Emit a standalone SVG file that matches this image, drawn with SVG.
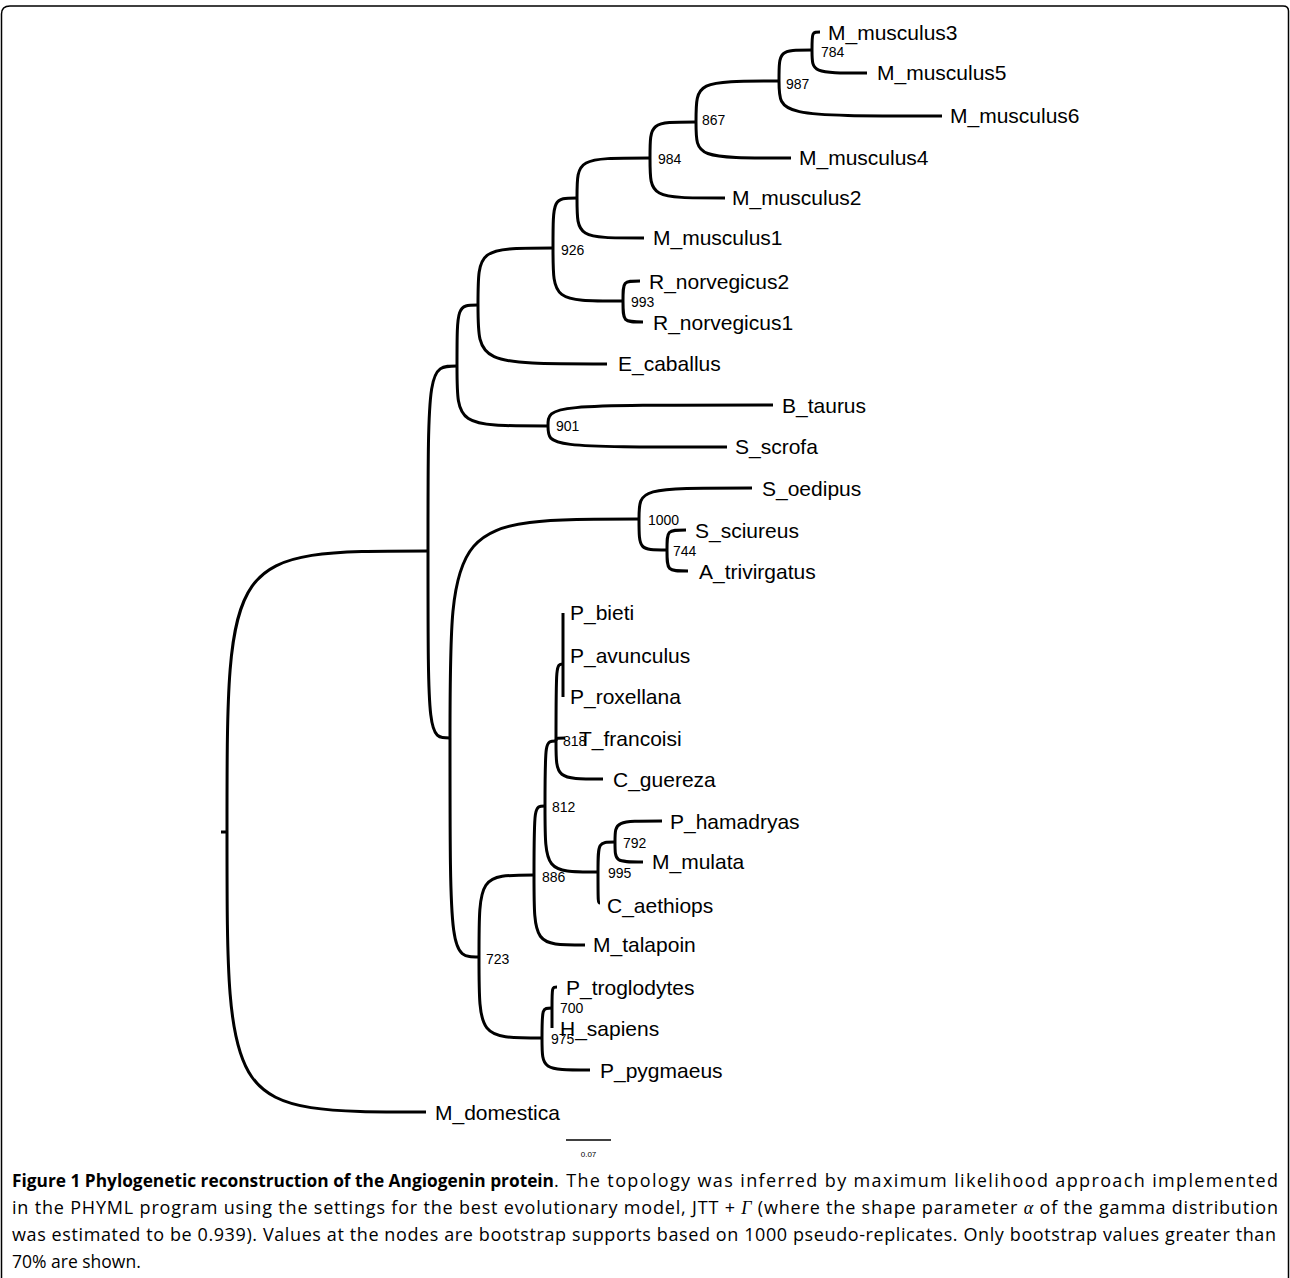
<svg xmlns="http://www.w3.org/2000/svg" width="1290" height="1278" viewBox="0 0 1290 1278">
<style>
.br{fill:none;stroke:#000;stroke-width:3;stroke-linecap:butt}
.tip{font-family:"Liberation Sans",Arial,sans-serif;font-size:21px;fill:#000}
.bs{font-family:"Liberation Sans",Arial,sans-serif;font-size:14px;fill:#000}
.cap{font-family:"Open Sans","Liberation Sans",sans-serif;font-size:18px;fill:#000}
.capb{font-family:"Open Sans","Liberation Sans",sans-serif;font-size:18px;font-weight:bold;fill:#000}
.gr{font-family:"Liberation Serif",serif;font-style:italic}
</style>
<rect width="1290" height="1278" fill="#fff"/>
<path d="M1.5,1278 V14 Q1.5,6 10,6 H1283 Q1288.5,6 1288.5,11 V1278" fill="none" stroke="#000" stroke-width="1.5"/>
<g id="connectors">
<path class="br" d="M221,832 H228"/>
<path class="br" d="M227,832 C227,551 227,551 428,551"/>
<path class="br" d="M227,832 C227,1112 227,1112 426,1112"/>
<path class="br" d="M428,551 C428,366 428,366 457,366"/>
<path class="br" d="M428,551 C428,738 428,738 450,738"/>
<path class="br" d="M457,366 C457,305 457,305 478,305"/>
<path class="br" d="M457,366 C457,426 457,426 548,426"/>
<path class="br" d="M478,305 C478,248 478,248 553,248"/>
<path class="br" d="M478,305 C478,364 478,364 607,364"/>
<path class="br" d="M553,248 C553,198 553,198 577,198"/>
<path class="br" d="M553,248 C553,301 553,301 623,301"/>
<path class="br" d="M577,198 C577,158 577,158 650,158"/>
<path class="br" d="M577,198 C577,238 577,238 644,238"/>
<path class="br" d="M650,158 C650,122 650,122 696,122"/>
<path class="br" d="M650,158 C650,198 650,198 725,198"/>
<path class="br" d="M696,122 C696,81 696,81 779,81"/>
<path class="br" d="M696,122 C696,158 696,158 791,158"/>
<path class="br" d="M779,81 C779,50 779,50 812,50"/>
<path class="br" d="M779,81 C779,116 779,116 942,116"/>
<path class="br" d="M812,50 C812,32 812,32 820,32"/>
<path class="br" d="M812,50 C812,73 812,73 867,73"/>
<path class="br" d="M623,301 C623,281 623,281 640,281"/>
<path class="br" d="M623,301 C623,322 623,322 643,322"/>
<path class="br" d="M548,426 C548,405 548,405 773,405"/>
<path class="br" d="M548,426 C548,447 548,447 727,447"/>
<path class="br" d="M450,738 C450,519 450,519 639,519"/>
<path class="br" d="M450,738 C450,957 450,957 479,957"/>
<path class="br" d="M639,519 C639,488 639,488 752,488"/>
<path class="br" d="M639,519 C639,550 639,550 667,550"/>
<path class="br" d="M667,550 C667,530 667,530 686,530"/>
<path class="br" d="M667,550 C667,571 667,571 688,571"/>
<path class="br" d="M479,957 C479,875 479,875 534,875"/>
<path class="br" d="M479,957 C479,1038 479,1038 542,1038"/>
<path class="br" d="M534,875 C534,806 534,806 545,806"/>
<path class="br" d="M534,875 C534,945 534,945 585,945"/>
<path class="br" d="M545,806 C545,741 545,741 556,741"/>
<path class="br" d="M545,806 C545,872 545,872 598,872"/>
<path class="br" d="M556,741 C556,664 556,664 563,664"/>
<path class="br" d="M556,741 C556,738 556,738 565,738"/>
<path class="br" d="M556,741 C556,779 556,779 603,779"/>
<path class="br" d="M563,664 V613"/>
<path class="br" d="M563,664 V697"/>
<path class="br" d="M598,872 C598,842 598,842 615,842"/>
<path class="br" d="M598,872 C598,903 598,903 600,903"/>
<path class="br" d="M615,842 C615,821 615,821 662,821"/>
<path class="br" d="M615,842 C615,862 615,862 643,862"/>
<path class="br" d="M542,1038 C542,1008 542,1008 552,1008"/>
<path class="br" d="M542,1038 C542,1070 542,1070 590,1070"/>
<path class="br" d="M552,1008 C552,987 552,987 557,987"/>
<path class="br" d="M552,1008 V1028"/>
</g>
<g id="tips">
<g id="t_M_musculus3"><text class="tip" x="828" y="40">M_musculus3</text></g>
<g id="t_M_musculus5"><text class="tip" x="877" y="80">M_musculus5</text></g>
<g id="t_M_musculus6"><text class="tip" x="950" y="123">M_musculus6</text></g>
<g id="t_M_musculus4"><text class="tip" x="799" y="165">M_musculus4</text></g>
<g id="t_M_musculus2"><text class="tip" x="732" y="205">M_musculus2</text></g>
<g id="t_M_musculus1"><text class="tip" x="653" y="245">M_musculus1</text></g>
<g id="t_R_norvegicus2"><text class="tip" x="649" y="289">R_norvegicus2</text></g>
<g id="t_R_norvegicus1"><text class="tip" x="653" y="330">R_norvegicus1</text></g>
<g id="t_E_caballus"><text class="tip" x="618" y="371">E_caballus</text></g>
<g id="t_B_taurus"><text class="tip" x="782" y="413">B_taurus</text></g>
<g id="t_S_scrofa"><text class="tip" x="735" y="454">S_scrofa</text></g>
<g id="t_S_oedipus"><text class="tip" x="762" y="496">S_oedipus</text></g>
<g id="t_S_sciureus"><text class="tip" x="695" y="538">S_sciureus</text></g>
<g id="t_A_trivirgatus"><text class="tip" x="699" y="579">A_trivirgatus</text></g>
<g id="t_P_bieti"><text class="tip" x="570" y="620">P_bieti</text></g>
<g id="t_P_avunculus"><text class="tip" x="570" y="663">P_avunculus</text></g>
<g id="t_P_roxellana"><text class="tip" x="570" y="704">P_roxellana</text></g>
<g id="t_T_francoisi"><text class="tip" x="579" y="746">T_francoisi</text></g>
<g id="t_C_guereza"><text class="tip" x="613" y="787">C_guereza</text></g>
<g id="t_P_hamadryas"><text class="tip" x="670" y="829">P_hamadryas</text></g>
<g id="t_M_mulata"><text class="tip" x="652" y="869">M_mulata</text></g>
<g id="t_C_aethiops"><text class="tip" x="607" y="913">C_aethiops</text></g>
<g id="t_M_talapoin"><text class="tip" x="593" y="952">M_talapoin</text></g>
<g id="t_P_troglodytes"><text class="tip" x="566" y="995">P_troglodytes</text></g>
<g id="t_H_sapiens"><text class="tip" x="560" y="1036">H_sapiens</text></g>
<g id="t_P_pygmaeus"><text class="tip" x="600" y="1078">P_pygmaeus</text></g>
<g id="t_M_domestica"><text class="tip" x="435" y="1120">M_domestica</text></g>
</g>
<g id="nodes">
<g id="n784"><text class="bs" x="821" y="57">784</text></g>
<g id="n987"><text class="bs" x="786" y="89">987</text></g>
<g id="n867"><text class="bs" x="702" y="125">867</text></g>
<g id="n984"><text class="bs" x="658" y="164">984</text></g>
<g id="n926"><text class="bs" x="561" y="255">926</text></g>
<g id="n993"><text class="bs" x="631" y="307">993</text></g>
<g id="n901"><text class="bs" x="556" y="431">901</text></g>
<g id="n1000"><text class="bs" x="648" y="525">1000</text></g>
<g id="n744"><text class="bs" x="673" y="556">744</text></g>
<g id="n818"><text class="bs" x="563" y="746">818</text></g>
<g id="n812"><text class="bs" x="552" y="812">812</text></g>
<g id="n792"><text class="bs" x="623" y="848">792</text></g>
<g id="n995"><text class="bs" x="608" y="878">995</text></g>
<g id="n886"><text class="bs" x="542" y="882">886</text></g>
<g id="n723"><text class="bs" x="486" y="964">723</text></g>
<g id="n700"><text class="bs" x="560" y="1013">700</text></g>
<g id="n975"><text class="bs" x="551" y="1044">975</text></g>
</g>
<g id="scale">
<path d="M566,1140 H611" stroke="#000" stroke-width="1.5"/>
<text x="588.5" y="1157" text-anchor="middle" font-family="Liberation Sans, sans-serif" font-size="8">0.07</text>
</g>
<g id="caption">
<text class="capb" x="12" y="1187" textLength="542" lengthAdjust="spacingAndGlyphs">Figure 1 Phylogenetic reconstruction of the Angiogenin protein</text>
<text class="cap" x="554" y="1187" textLength="724" lengthAdjust="spacing">. The topology was inferred by maximum likelihood approach implemented</text>
<text class="cap" x="12" y="1214" textLength="1266" lengthAdjust="spacing">in the PHYML program using the settings for the best evolutionary model, JTT + <tspan class="gr">Γ</tspan> (where the shape parameter <tspan class="gr">α</tspan> of the gamma distribution</text>
<text class="cap" x="12" y="1241" textLength="1264" lengthAdjust="spacing">was estimated to be 0.939). Values at the nodes are bootstrap supports based on 1000 pseudo-replicates. Only bootstrap values greater than</text>
<text class="cap" x="12" y="1268" style="font-size:17.5px">70% are shown.</text>
</g>
</svg>
